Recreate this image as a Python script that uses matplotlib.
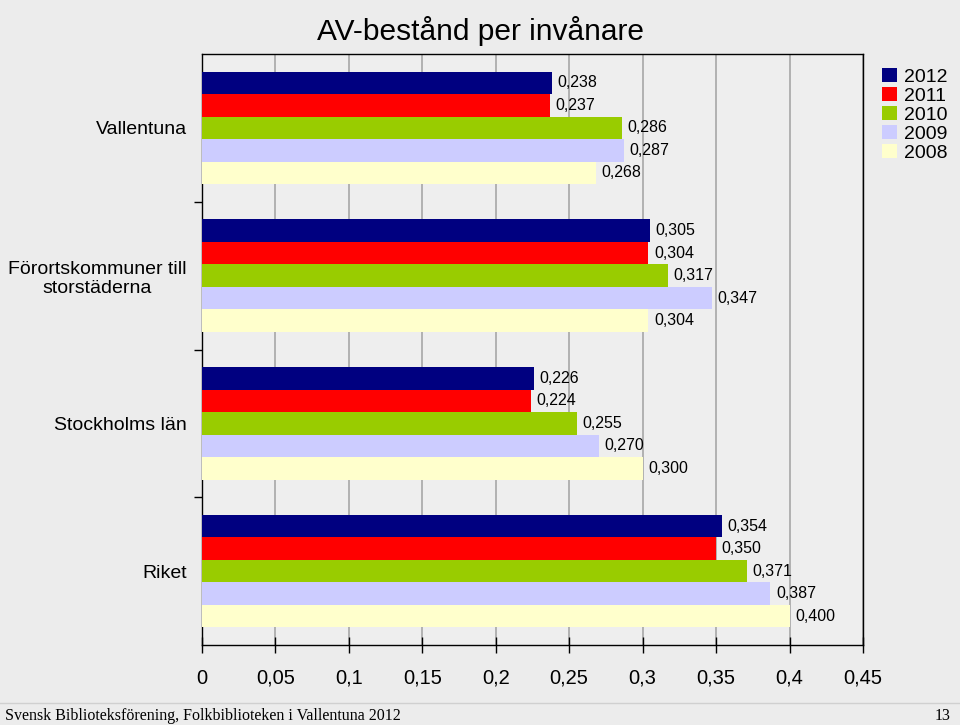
import matplotlib
matplotlib.use("Agg")
from matplotlib import pyplot as plt
from matplotlib.ticker import MultipleLocator, FuncFormatter, FixedLocator
import numpy as np

# data
categories = ["Vallentuna", "Förortskommuner till\nstorstäderna", "Stockholms län", "Riket"]
years = ["2012", "2011", "2010", "2009", "2008"]
v2012 = [0.238, 0.305, 0.226, 0.354]
v2011 = [0.237, 0.304, 0.224, 0.350]
v2010 = [0.286, 0.317, 0.255, 0.371]
v2009 = [0.287, 0.347, 0.270, 0.387]
v2008 = [0.268, 0.304, 0.300, 0.400]
series = [v2012, v2011, v2010, v2009, v2008]
colors = ["#000080", "#ff0000", "#99cc00", "#ccccff", "#ffffcc"]

plt.rcParams["font.family"] = ["Liberation Sans", "DejaVu Sans"]

fig = plt.figure(figsize=(9.6, 7.25), dpi=100, facecolor="#ececec")
ax = fig.add_axes([0.2104, 0.1103, 0.6885, 0.8152])
ax.set_facecolor("#eeeeee")

y = np.arange(len(categories))
h = 0.152
for i, (vals, year, col) in enumerate(zip(series, years, colors)):
    bars = ax.barh(y + (i - 2) * h, vals, height=h, color=col, label=year, zorder=3)
    ax.bar_label(bars, labels=[f"{v:.3f}".replace(".", ",") for v in vals],
                 padding=4, fontsize=11.5, color="black")

ax.set_ylim(3.5, -0.5)
ax.set_xlim(0, 0.45)
ax.xaxis.set_major_locator(MultipleLocator(0.05))
ax.xaxis.set_major_formatter(FuncFormatter(lambda v, p: f"{v:g}".replace(".", ",")))
ax.grid(axis="x", color="#a6a6a6", linewidth=1.2, zorder=0)
ax.tick_params(axis="x", direction="inout", length=12, width=1, pad=11, labelsize=14.5)

ax.set_yticks(y)
ax.set_yticklabels(categories, multialignment="center", fontsize=14)
ax.tick_params(axis="y", which="major", length=0, pad=11)
ax.yaxis.set_minor_locator(FixedLocator([0.5, 1.5, 2.5]))
ax.tick_params(axis="y", which="minor", length=6, width=1, direction="out")

for s in ax.spines.values():
    s.set_color("black")
    s.set_linewidth(1)

fig.text(0.501, 0.957, "AV-bestånd per invånare", ha="center", va="center", fontsize=21.5)

fig.legend(loc="upper left", bbox_to_anchor=(0.919, 0.906), frameon=False,
           fontsize=14, handlelength=0.75, handleheight=0.75, handletextpad=0.35,
           labelspacing=0.05, borderaxespad=0, borderpad=0)

# footer
fig.add_artist(plt.Line2D([0, 1], [0.031, 0.031], transform=fig.transFigure,
                          color="#d0d0d0", linewidth=1))
fig.text(0.005, 0.013, "Svensk Biblioteksförening, Folkbiblioteken i Vallentuna 2012",
         family="Liberation Serif", fontsize=11.5, va="center")
fig.text(0.99, 0.013, "13", family="Liberation Serif", fontsize=11.5, va="center", ha="right")

fig.savefig("out.png", dpi=100, facecolor=fig.get_facecolor())
